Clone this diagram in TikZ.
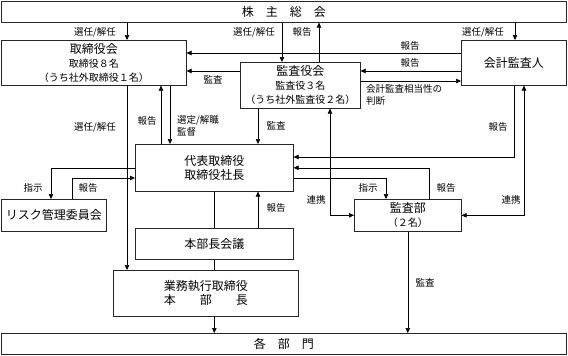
\documentclass[tikz,border=0pt]{standalone}
\usepackage{fontspec}
\setmainfont{Noto Sans CJK JP}
\usetikzlibrary{arrows.meta}

\newcommand{\smalltxt}{\fontsize{10}{12.5}\selectfont}

\begin{document}
\begin{tikzpicture}[x=1pt,y=-1pt,
	box/.style={draw=black!85, line width=0.6pt, anchor=north west, inner sep=0pt, align=center, font=\fontsize{12}{14}\selectfont},
	lbl/.style={inner sep=0pt, font=\fontsize{9.5}{11.5}\selectfont},
	ln/.style={line width=0.6pt},
	arr/.style={line width=0.6pt, -{Triangle[length=5pt,width=4.5pt]}},
	arrb/.style={line width=0.6pt, {Triangle[length=5pt,width=4.5pt]}-{Triangle[length=5pt,width=4.5pt]}}]
	\useasboundingbox (0,0) rectangle (568,356);

	% boxes
	\node[box, minimum width=565pt, minimum height=21pt] (agm) at (1,1) {株　主　総　会};
	\node[box, minimum width=185pt, minimum height=45pt] (board) at (1,40) {取締役会\\\smalltxt 取締役８名\\\smalltxt （うち社外取締役１名）};
	\node[box, minimum width=120pt, minimum height=46pt] (kansa) at (240,62) {監査役会\\\smalltxt 監査役３名\\\smalltxt （うち社外監査役２名）};
	\node[box, minimum width=105pt, minimum height=45pt] (auditor) at (461,40) {会計監査人};
	\node[box, minimum width=158pt, minimum height=47pt] (ceo) at (135,144) {代表取締役\\取締役社長};
	\node[box, minimum width=105pt, minimum height=32pt] (risk) at (1,199) {リスク管理委員会};
	\node[box, minimum width=107pt, minimum height=32pt] (audit) at (354,199) {監査部\\\smalltxt （２名）};
	\node[box, minimum width=158pt, minimum height=31pt] (honbu) at (135,228) {本部長会議};
	\node[box, minimum width=185pt, minimum height=46pt] (exec) at (113,270) {業務執行取締役\\本　　部　　長};
	\node[box, minimum width=565pt, minimum height=21pt] (dept) at (1,333) {各　部　門};

	% shareholders meeting
	\draw[arr] ([xshift=126]agm.south west) -- ([xshift=126]board.north west);
	\coordinate (kin) at ([xshift=42]kansa.north west);
	\draw[arr] (agm.south -| kin) -- (kin);
	\coordinate (kout) at ([xshift=79]kansa.north west);
	\draw[arr] (kout) -- (kout |- agm.south);
	\coordinate (ain) at ([xshift=54]auditor.north west);
	\draw[arr] (agm.south -| ain) -- (ain);

	% auditor, kansa, board
	\coordinate (a1) at ([yshift=-13]auditor.north west);
	\draw[arr] (a1) -- (a1 -| board.east);
	\coordinate (a2) at ([yshift=-31]auditor.north west);
	\draw[arr] (a2) -- (a2 -| kansa.east);
	\coordinate (k2) at ([yshift=-19]kansa.north east);
	\draw[arr] (k2) -- (k2 -| auditor.west);
	\coordinate (k1) at ([yshift=-9]kansa.north west);
	\draw[arr] (k1) -- (k1 -| board.east);

	% board and ceo
	\coordinate (b1) at ([xshift=169]board.south west);
	\draw[arr] (b1) -- (b1 |- ceo.north);
	\coordinate (c1) at ([xshift=26]ceo.north west);
	\draw[arr] (c1) -- (c1 |- board.south);
	\coordinate (b2) at ([xshift=126]board.south west);
	\draw[arr] (b2) -- (b2 |- exec.north);
	\coordinate (k3) at ([xshift=18]kansa.south west);
	\draw[arr] (k3) -- (k3 |- ceo.north);

	% renkei
	\coordinate (k4) at ([xshift=90]kansa.south west);
	\draw[arrb] (k4) |- (audit.west);
	\coordinate (a3) at ([xshift=63]auditor.south west);
	\draw[arrb] (a3) |- (audit.east);

	% reports and orders round the ceo
	\coordinate (a4) at ([xshift=53]auditor.south west);
	\coordinate (c2) at ([yshift=-13]ceo.north east);
	\draw[arr] (a4) |- (c2);
	\coordinate (d1) at ([xshift=75]audit.north west);
	\draw[arr] (d1) |- (ceo.east);
	\coordinate (c3) at ([yshift=-34]ceo.north east);
	\coordinate (d2) at ([xshift=32]audit.north west);
	\draw[arr] (c3) -| (d2);
	\coordinate (r1) at ([xshift=50]risk.north west);
	\draw[arr] (ceo.west) -| (r1);
	\coordinate (r2) at ([xshift=71]risk.north west);
	\coordinate (c4) at ([yshift=-34]ceo.north west);
	\draw[arr] (r2) |- (c4);

	% lower part
	\draw[ln] (ceo.south) -- (ceo.south |- honbu.north);
	\coordinate (h1) at ([xshift=123]honbu.north west);
	\draw[arr] (h1) -- (h1 |- ceo.south);
	\draw[ln] (honbu.south) -- (honbu.south |- exec.north);
	\draw[arr] (honbu.south |- exec.south) -- (honbu.south |- dept.north);
	\draw[arr] (audit.south) -- (audit.south |- dept.north);

	% labels
	\node[lbl] (l1) at (95,32) {選任/解任};
	\node[lbl] (l2) at (254,32) {選任/解任};
	\node[lbl] (l3) at (302,32) {報告};
	\node[lbl] (l4) at (483,32) {選任/解任};
	\node[lbl] (l5) at (410,46) {報告};
	\node[lbl] (l6) at (410,63) {報告};
	\node[lbl] (l7) at (213,80) {監査};
	\node[lbl, anchor=west, align=left] (l8) at (366,95) {会計監査相当性の\\判断};
	\node[lbl] (l9) at (147,121) {報告};
	\node[lbl, anchor=west, align=left] (l10) at (177,126) {選定/解職\\監督};
	\node[lbl] (l11) at (95,127) {選任/解任};
	\node[lbl] (l12) at (276,126) {監査};
	\node[lbl] (l13) at (498,127) {報告};
	\node[lbl] (l14) at (33,188) {指示};
	\node[lbl] (l15) at (88,188) {報告};
	\node[lbl] (l16) at (368,188) {指示};
	\node[lbl] (l17) at (446,188) {報告};
	\node[lbl] (l18) at (316,200) {連携};
	\node[lbl] (l19) at (511,200) {連携};
	\node[lbl] (l20) at (276,208) {報告};
	\node[lbl] (l21) at (425,283) {監査};
\end{tikzpicture}
\end{document}
